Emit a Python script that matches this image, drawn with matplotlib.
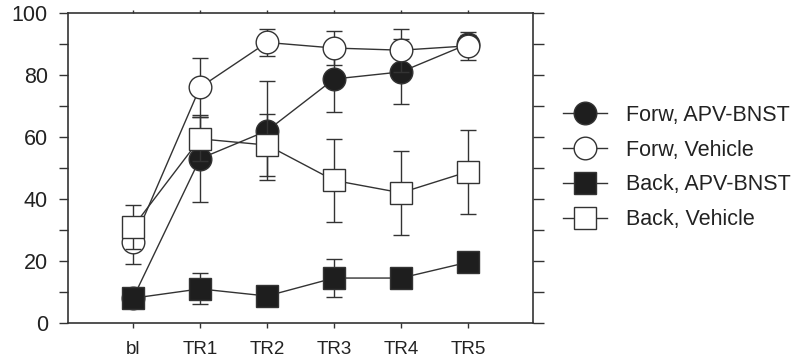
import matplotlib
matplotlib.use("Agg")
import matplotlib.pyplot as plt
from matplotlib.lines import Line2D
from matplotlib.ticker import MultipleLocator
import numpy as np

plt.rcParams['font.family'] = ['Liberation Sans', 'DejaVu Sans']

categories = ["bl", "TR1", "TR2", "TR3", "TR4", "TR5"]

forw_apv = [8, 53, 62, 78.7, 81, 90]
forw_apv_err = [2, 14, 16, 10.5, 10.5, 3]

forw_veh = [26, 76, 90.5, 88.7, 88, 89.4]
forw_veh_err = [7, 9.5, 4.5, 5.5, 7, 4.6]

back_apv = [8, 11, 8.7, 14.5, 14.5, 19.6]
back_apv_err = [3, 5, 3, 6, 3, 3]

back_veh = [31, 59.4, 57.4, 46, 42, 48.8]
back_veh_err = [7, 7, 10, 13.5, 13.5, 13.5]

labels = ["Forw, APV-BNST", "Forw, Vehicle", "Back, APV-BNST", "Back, Vehicle"]

dark = "#1e1e1e"
edge = "#333333"

fig = plt.figure(figsize=(7.95, 3.62), dpi=100)
ax = fig.add_axes([68 / 795, 1 - 323 / 362, (533 - 68) / 795, (323 - 13) / 362])

x = np.arange(len(categories))
series = [
    (forw_apv, forw_apv_err, 'o', dark, 16.3),
    (forw_veh, forw_veh_err, 'o', 'white', 16.3),
    (back_apv, back_apv_err, 's', dark, 16.3),
    (back_veh, back_veh_err, 's', 'white', 16.3),
]
handles = []
for i, (vals, errs, mk, fc, ms) in enumerate(series):
    ax.errorbar(x, vals, yerr=errs, fmt='-', marker=mk, ms=ms, mfc=fc, mec=edge,
                mew=1.0, color=edge, lw=1.0, ecolor=edge, elinewidth=1.0,
                capsize=6, capthick=1.0, zorder=3 + i)
    handles.append(Line2D([0], [0], color=edge, lw=1.0, marker=mk, ms=ms,
                          mfc=fc, mec=edge, mew=1.0))

ax.set_xlim(-0.97, 5.97)
ax.set_ylim(0, 100)
ax.set_xticks(x)
ax.set_xticklabels(categories)
ax.yaxis.set_major_locator(MultipleLocator(20))
ax.yaxis.set_minor_locator(MultipleLocator(10))

for sp in ax.spines.values():
    sp.set_color(edge)
    sp.set_linewidth(1.2)

ax.tick_params(axis='y', which='both', direction='out', length=6.5, width=1.0,
               color=edge, left=True, right=True, labelsize=15.5, pad=8,
               labelcolor="#222222")
ax.tick_params(axis='x', which='both', direction='out', length=3.6, width=1.0,
               color=edge, top=True, bottom=True, labelsize=13.5, pad=9,
               labelcolor="#222222")
for t in ax.xaxis.get_major_ticks():
    t.tick2line.set_markersize(2.5)
for t in ax.yaxis.get_major_ticks() + ax.yaxis.get_minor_ticks():
    t.tick2line.set_markersize(8)

fig.legend(handles, labels, loc='center left', bbox_to_anchor=(563 / 795, 0.537),
           frameon=False, fontsize=15.5, handlelength=2.05, handletextpad=0.88,
           labelspacing=0.64, borderaxespad=0, borderpad=0, labelcolor="#222222")

fig.savefig("out.png", dpi=100)
